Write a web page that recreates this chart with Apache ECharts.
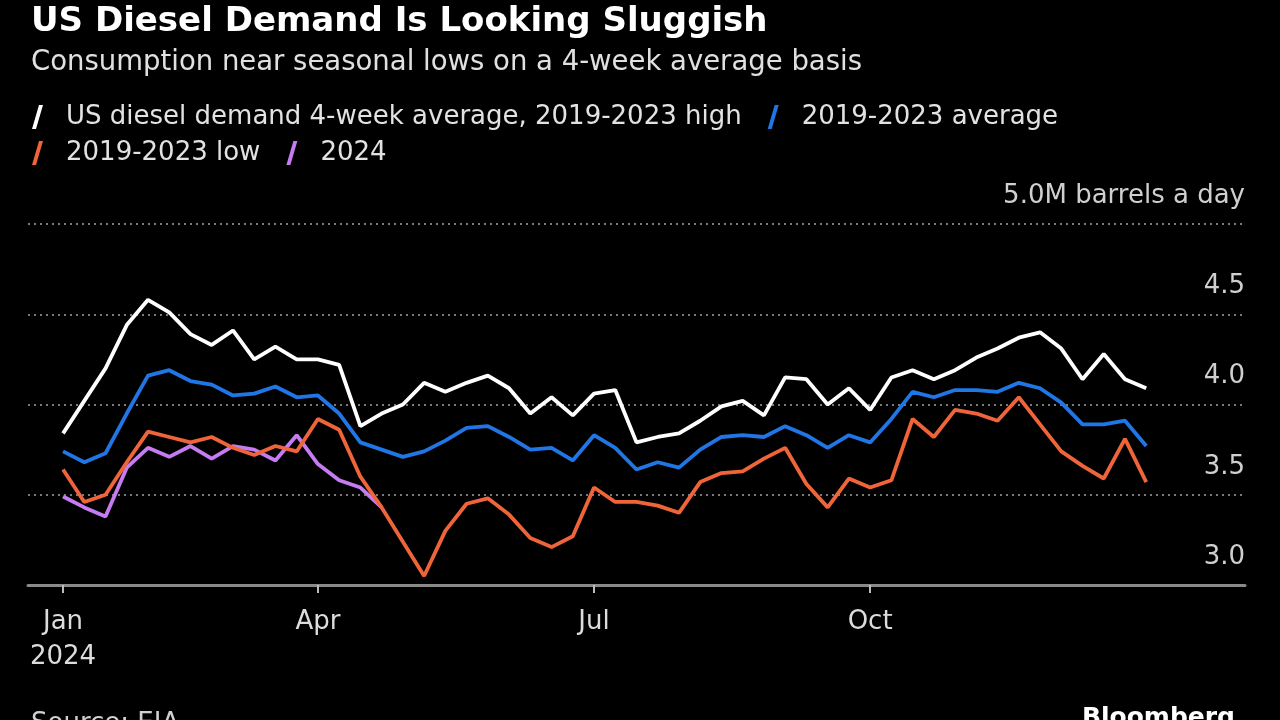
<!DOCTYPE html>
<html>
<head>
<meta charset="utf-8">
<script src="https://cdn.jsdelivr.net/npm/echarts@6/dist/echarts.min.js"></script>
<style>
  html, body { margin: 0; padding: 0; background: #000; }
  #chart { width: 1280px; height: 720px; }
</style>
</head>
<body>
<div id="chart"></div>
<script>
// Weekly points (week index 0 = first week of January 2024)
const weeks = [
  '2024-01-05','2024-01-12','2024-01-19','2024-01-26','2024-02-02','2024-02-09','2024-02-16','2024-02-23',
  '2024-03-01','2024-03-08','2024-03-15','2024-03-22','2024-03-29','2024-04-05','2024-04-12','2024-04-19',
  '2024-04-26','2024-05-03','2024-05-10','2024-05-17','2024-05-24','2024-05-31','2024-06-07','2024-06-14',
  '2024-06-21','2024-06-28','2024-07-05','2024-07-12','2024-07-19','2024-07-26','2024-08-02','2024-08-09',
  '2024-08-16','2024-08-23','2024-08-30','2024-09-06','2024-09-13','2024-09-20','2024-09-27','2024-10-04',
  '2024-10-11','2024-10-18','2024-10-25','2024-11-01','2024-11-08','2024-11-15','2024-11-22','2024-11-29',
  '2024-12-06','2024-12-13','2024-12-20','2024-12-27'
];

const high = [3.84,4.02,4.20,4.44,4.58,4.51,4.39,4.33,4.41,4.25,4.32,4.25,4.25,4.22,3.88,3.95,
  4.00,4.12,4.07,4.12,4.16,4.09,3.95,4.04,3.94,4.06,4.08,3.79,3.82,3.84,3.91,3.99,
  4.02,3.94,4.15,4.14,4.00,4.09,3.97,4.15,4.19,4.14,4.19,4.26,4.31,4.37,4.40,4.31,
  4.14,4.28,4.14,4.09];

const average = [3.74,3.68,3.73,3.95,4.16,4.19,4.13,4.11,4.05,4.06,4.10,4.04,4.05,3.95,3.79,3.75,
  3.71,3.74,3.80,3.87,3.88,3.82,3.75,3.76,3.69,3.83,3.76,3.64,3.68,3.65,3.75,3.82,
  3.83,3.82,3.88,3.83,3.76,3.83,3.79,3.92,4.07,4.04,4.08,4.08,4.07,4.12,4.09,4.01,
  3.89,3.89,3.91,3.77];

const low = [3.64,3.46,3.50,3.68,3.85,3.82,3.79,3.82,3.76,3.72,3.77,3.74,3.92,3.86,3.60,3.43,
  3.24,3.05,3.30,3.45,3.48,3.39,3.26,3.21,3.27,3.54,3.46,3.46,3.44,3.40,3.57,3.62,
  3.63,3.70,3.76,3.56,3.43,3.59,3.54,3.58,3.92,3.82,3.97,3.95,3.91,4.04,3.89,3.74,
  3.66,3.59,3.81,3.57];

const y2024 = [3.49,3.43,3.38,3.65,3.76,3.71,3.77,3.70,3.77,3.75,3.69,3.83,3.67,3.58,3.54,3.43];

const tickIndex = [0, 12, 25, 38];
const tickLabels = ['Jan\n2024', 'Apr', 'Jul', 'Oct'];

const seriesNames = [
  'US diesel demand 4-week average, 2019-2023 high',
  '2019-2023 average',
  '2019-2023 low',
  '2024'
];
const colors = ['#ffffff', '#2176e6', '#f0643a', '#c47cf0'];

const toPairs = arr => arr.map((v, i) => [i, v]);

const FONT = 'DejaVu Sans';
const slash = 'path://M7,0 L11,0 L4,24 L0,24 Z';

const chart = echarts.init(document.getElementById('chart'), null, { renderer: 'canvas' });

const legendCommon = {
  left: 27,
  orient: 'horizontal',
  icon: slash,
  itemWidth: 11,
  itemHeight: 24,
  itemGap: 26,
  selectedMode: false,
  textStyle: { color: '#e2e2e2', fontSize: 26, fontFamily: FONT, padding: [0, 0, 0, 18] }
};

chart.setOption({
  backgroundColor: '#000000',
  animation: false,
  color: colors,
  title: [
    {
      text: 'US Diesel Demand Is Looking Sluggish',
      left: 26, top: 0,
      textStyle: { color: '#ffffff', fontSize: 34, fontWeight: 'bold', fontFamily: FONT }
    },
    {
      text: 'Consumption near seasonal lows on a 4-week average basis',
      left: 26, top: 44,
      textStyle: { color: '#e0e0e0', fontSize: 27.5, fontWeight: 'normal', fontFamily: FONT }
    },
    {
      text: 'Source: EIA',
      left: 26, top: 706,
      textStyle: { color: '#d0d0d0', fontSize: 26, fontWeight: 'normal', fontFamily: FONT }
    },
    {
      text: 'Bloomberg',
      right: 40, top: 701,
      textStyle: { color: '#ffffff', fontSize: 25, fontWeight: 'bold', fontFamily: FONT }
    }
  ],
  legend: [
    Object.assign({}, legendCommon, { top: 99, data: [seriesNames[0], seriesNames[1]] }),
    Object.assign({}, legendCommon, { top: 135, data: [seriesNames[2], seriesNames[3]] })
  ],
  grid: { left: 28, right: 35, top: 224, bottom: 135, containLabel: false },
  xAxis: {
    type: 'value',
    min: -1.65,
    max: 55.65,
    axisLine: { show: true, lineStyle: { color: '#8a8a8a', width: 3 } },
    axisTick: {
      show: true, customValues: tickIndex, length: 8, inside: false,
      lineStyle: { color: '#bbbbbb', width: 2 }
    },
    axisLabel: {
      show: true, customValues: tickIndex,
      formatter: v => tickLabels[tickIndex.indexOf(Math.round(v))] || '',
      color: '#dcdcdc', fontSize: 26, fontFamily: FONT, lineHeight: 35, margin: 20,
      align: 'center'
    },
    splitLine: { show: false }
  },
  yAxis: {
    type: 'value',
    position: 'right',
    min: 3.0,
    max: 5.0,
    interval: 0.5,
    axisLine: { show: false },
    axisTick: { show: false },
    axisLabel: {
      inside: true,
      margin: 0,
      color: '#cfcfcf',
      fontSize: 26,
      fontFamily: FONT,
      verticalAlign: 'bottom',
      lineHeight: 56,
      formatter: v => (Math.abs(v - 5) < 1e-9 ? '5.0M barrels a day' : v.toFixed(1))
    },
    splitLine: {
      show: true,
      lineStyle: { color: '#7a7a7a', width: 2, type: [2, 4] }
    }
  },
  series: [
    { name: seriesNames[0], type: 'line', data: toPairs(high), showSymbol: false, symbol: 'none',
      lineStyle: { width: 3.8, color: colors[0] }, z: 4 },
    { name: seriesNames[1], type: 'line', data: toPairs(average), showSymbol: false, symbol: 'none',
      lineStyle: { width: 3.8, color: colors[1] }, z: 3 },
    { name: seriesNames[2], type: 'line', data: toPairs(low), showSymbol: false, symbol: 'none',
      lineStyle: { width: 3.8, color: colors[2] }, z: 2 },
    { name: seriesNames[3], type: 'line', data: toPairs(y2024), showSymbol: false, symbol: 'none',
      lineStyle: { width: 3.8, color: colors[3] }, z: 1 }
  ]
});
</script>
</body>
</html>
